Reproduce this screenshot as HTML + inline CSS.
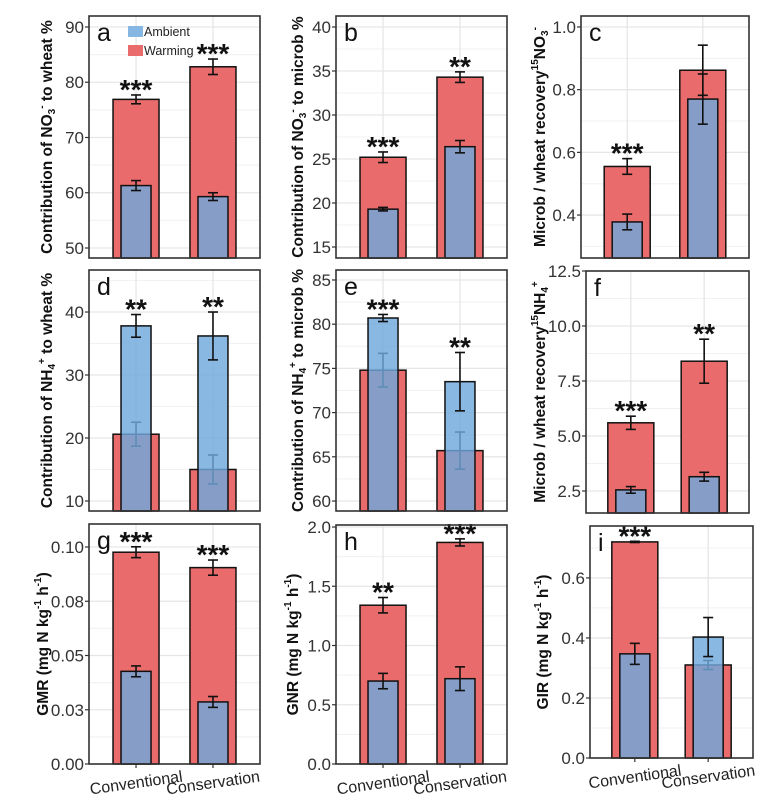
<!DOCTYPE html>
<html><head><meta charset="utf-8"><style>
html,body{margin:0;padding:0;background:#fff;}
svg{display:block;font-family:"Liberation Sans",sans-serif;}
</style></head><body>
<svg id="chart" width="776" height="806" viewBox="0 0 776 806" xmlns="http://www.w3.org/2000/svg"></svg>
<script>
// ---- data ----
const categories = ["Conventional","Conservation"];
const aWarm=[76.9,82.8], aWarmErr=[0.8,1.4], aAmb=[61.3,59.3], aAmbErr=[0.9,0.7], aStars=["***","***"];
const bWarm=[25.2,34.3], bWarmErr=[0.6,0.6], bAmb=[19.3,26.4], bAmbErr=[0.2,0.7], bStars=["***","**"];
const cWarm=[0.555,0.862], cWarmErr=[0.025,0.08], cAmb=[0.378,0.77], cAmbErr=[0.025,0.08], cStars=["***",""];
const dWarm=[20.6,15.0], dWarmErr=[1.9,2.3], dAmb=[37.8,36.2], dAmbErr=[1.8,3.8], dStars=["**","**"];
const eWarm=[74.8,65.7], eWarmErr=[1.9,2.1], eAmb=[80.7,73.5], eAmbErr=[0.4,3.3], eStars=["***","**"];
const fWarm=[5.6,8.4], fWarmErr=[0.3,1.0], fAmb=[2.55,3.15], fAmbErr=[0.15,0.2], fStars=["***","**"];
const gWarm=[0.0976,0.0905], gWarmErr=[0.0025,0.0035], gAmb=[0.0427,0.0286], gAmbErr=[0.0025,0.0025], gStars=["***","***"];
const hWarm=[1.34,1.87], hWarmErr=[0.065,0.03], hAmb=[0.70,0.72], hAmbErr=[0.065,0.1], hStars=["**","***"];
const iWarm=[0.72,0.31], iWarmErr=[0.002,0.015], iAmb=[0.347,0.403], iAmbErr=[0.035,0.065], iStars=["***",""];
const aTicks=[50,60,70,80,90], aTickLabels=["50","60","70","80","90"];
const bTicks=[15,20,25,30,35,40], bTickLabels=["15","20","25","30","35","40"];
const cTicks=[0.4,0.6,0.8,1.0], cTickLabels=["0.4","0.6","0.8","1.0"];
const dTicks=[10,20,30,40], dTickLabels=["10","20","30","40"];
const eTicks=[60,65,70,75,80,85], eTickLabels=["60","65","70","75","80","85"];
const fTicks=[2.5,5,7.5,10,12.5], fTickLabels=["2.5","5.0","7.5","10.0","12.5"];
const gTicks=[0,0.025,0.05,0.075,0.1], gTickLabels=["0.00","0.03","0.05","0.08","0.10"];
const hTicks=[0,0.5,1,1.5,2], hTickLabels=["0.0","0.5","1.0","1.5","2.0"];
const iTicks=[0,0.2,0.4,0.6], iTickLabels=["0.0","0.2","0.4","0.6"];

const NS="http://www.w3.org/2000/svg";
const svg=document.getElementById('chart');
function mk(tag,attrs,parent){const e=document.createElementNS(NS,tag);for(const k in attrs)e.setAttribute(k,attrs[k]);(parent||svg).appendChild(e);return e;}

const panels=[
 {id:'a',box:[89,260,16,258],dom:[48.19,91.99],warm:aWarm,we:aWarmErr,amb:aAmb,ae:aAmbErr,stars:aStars,ticks:aTicks,tl:aTickLabels,tx:48,title:['Contribution of NO',['3','sub'],['-','sup'],' to wheat %']},
 {id:'b',box:[336,507,16,258],dom:[13.75,41.25],warm:bWarm,we:bWarmErr,amb:bAmb,ae:bAmbErr,stars:bStars,ticks:bTicks,tl:bTickLabels,tx:299,title:['Contribution of NO',['3','sub'],['-','sup'],' to microb %']},
 {id:'c',box:[581,749,16,258],dom:[0.263,1.035],warm:cWarm,we:cWarmErr,amb:cAmb,ae:cAmbErr,stars:cStars,ticks:cTicks,tl:cTickLabels,tx:541,title:['Microb / wheat recovery',['15','sup'],'NO',['3','sub'],['-','sup']]},
 {id:'d',box:[89,260,270,511],dom:[8.41,46.67],warm:dWarm,we:dWarmErr,amb:dAmb,ae:dAmbErr,stars:dStars,ticks:dTicks,tl:dTickLabels,tx:48,title:['Contribution of NH',['4','sub'],['+','sup'],' to wheat %']},
 {id:'e',box:[336,507,270,511],dom:[58.87,86.13],warm:eWarm,we:eWarmErr,amb:eAmb,ae:eAmbErr,stars:eStars,ticks:eTicks,tl:eTickLabels,tx:299,title:['Contribution of NH',['4','sub'],['+','sup'],' to microb %']},
 {id:'f',box:[586,749,271,513],dom:[1.5,12.5],warm:fWarm,we:fWarmErr,amb:fAmb,ae:fAmbErr,stars:fStars,ticks:fTicks,tl:fTickLabels,tx:541,title:['Microb / wheat recovery',['15','sup'],'NH',['4','sub'],['+','sup']]},
 {id:'g',box:[89,260,524,764],dom:[0,0.1106],warm:gWarm,we:gWarmErr,amb:gAmb,ae:gAmbErr,stars:gStars,ticks:gTicks,tl:gTickLabels,tx:44,title:['GMR (mg N kg',['-1','sup'],' h',['-1','sup'],')'],xlab:true},
 {id:'h',box:[336,507,525,764],dom:[0,2.017],warm:hWarm,we:hWarmErr,amb:hAmb,ae:hAmbErr,stars:hStars,ticks:hTicks,tl:hTickLabels,tx:294,title:['GNR (mg N kg',['-1','sup'],' h',['-1','sup'],')'],xlab:true},
 {id:'i',box:[590,753,526,758],dom:[0,0.773],warm:iWarm,we:iWarmErr,amb:iAmb,ae:iAmbErr,stars:iStars,ticks:iTicks,tl:iTickLabels,tx:544,title:['GIR (mg N kg',['-1','sup'],' h',['-1','sup'],')'],xlab:true}
];

panels.forEach(p=>{
 const [L,R,T,B]=p.box;
 const g=mk('g',{});
 
 
 const y=v=>B-(v-p.dom[0])/(p.dom[1]-p.dom[0])*(B-T);
 const x=i=>L+(R-L)*(0.275+0.45*i);
 for(let k=0;k<p.ticks.length;k++){
   const t=p.ticks[k];
   const step=p.ticks.length>1?(p.ticks[1]-p.ticks[0]):1;
   [t-step/2,t+step/2].forEach(m=>{if(m>p.dom[0]&&m<p.dom[1])mk('line',{x1:L,x2:R,y1:y(m),y2:y(m),stroke:'#f2f2f2','stroke-width':1},g);});
 }
 p.ticks.forEach(t=>mk('line',{x1:L,x2:R,y1:y(t),y2:y(t),stroke:'#e6e6e6','stroke-width':1.3},g));
 categories.forEach((c,i)=>mk('line',{x1:x(i),x2:x(i),y1:T,y2:B,stroke:'#e6e6e6','stroke-width':1.3},g));
 const eb=(cx,v,e,col,w)=>{
   const gg=mk('g',{stroke:col,'stroke-width':1.6},g);
   mk('line',{x1:cx,x2:cx,y1:y(v+e),y2:y(v-e)},gg);
   mk('line',{x1:cx-w,x2:cx+w,y1:y(v+e),y2:y(v+e)},gg);
   mk('line',{x1:cx-w,x2:cx+w,y1:y(v-e),y2:y(v-e)},gg);
 };
 categories.forEach((c,i)=>{
   const cx=x(i);
   const rb=mk('rect',{x:cx-23,y:y(p.warm[i]),width:46,height:B-y(p.warm[i]),fill:'#ea6b6b',stroke:'#111','stroke-width':1.5},g);
   
   
   eb(cx,p.warm[i],p.we[i],'#111',5);
   const ab=mk('rect',{x:cx-15,y:y(p.amb[i]),width:30,height:B-y(p.amb[i]),fill:'rgba(111,168,220,0.82)',stroke:'#111','stroke-width':1.5},g);
   
   
   eb(cx,p.amb[i],p.ae[i],'#111',5);
   if(p.stars[i]){
     const top=Math.max(p.warm[i]+p.we[i],p.amb[i]+p.ae[i]);
     const s=mk('text',{x:cx,y:y(top)+4,'text-anchor':'middle','font-size':28,'font-weight':'bold',fill:'#111'},g);
     s.textContent=p.stars[i];
     
     
   }
 });
 p.ticks.forEach((t,k)=>{
   mk('line',{x1:L-4,x2:L,y1:y(t),y2:y(t),stroke:'#333','stroke-width':1.2},g);
   const tl=mk('text',{x:L-5,y:y(t)+6,'text-anchor':'end','font-size':17,fill:'#333'},g);
   tl.textContent=p.tl[k];
   
   
 });
 mk('rect',{x:L,y:T,width:R-L,height:B-T,fill:'none',stroke:'#333','stroke-width':1.6},g);
 const lt=mk('text',{x:L+8,y:T+25,'font-size':25,fill:'#111'},g);
 lt.textContent=p.id;
 
 
 const cy=(T+B)/2;
 const ti=mk('text',{x:p.tx,y:cy,'text-anchor':'middle','font-size':15.5,'font-weight':'bold',fill:'#111',transform:`rotate(-90 ${p.tx} ${cy})`,'dominant-baseline':'middle'},g);
 
 
 p.title.forEach(part=>{
   const sp=mk('tspan',{},ti);
   if(typeof part==='string'){sp.textContent=part;}
   else{sp.textContent=part[0];sp.setAttribute('font-size',10);sp.setAttribute('baseline-shift',part[1]==='sup'?'6':'-4');}
 });
 if(p.xlab){
   categories.forEach((c,i)=>{
     mk('line',{x1:x(i),x2:x(i),y1:B,y2:B+4,stroke:'#333','stroke-width':1.2},g);
     const xl=mk('text',{x:x(i),y:B+24,'text-anchor':'middle','font-size':16,fill:'#222',transform:`rotate(-8 ${x(i)} ${B+18})`},g);
     xl.textContent=c;
     
     
   });
 }
});
const lg=mk('g',{});


mk('rect',{x:128,y:26,width:15,height:11,fill:'#86b6e2'},lg);
mk('rect',{x:128,y:45,width:15,height:11,fill:'#ea6b6b'},lg);
const l1=mk('text',{x:144,y:36,'font-size':12.5,fill:'#222'},lg);l1.textContent='Ambient';


const l2=mk('text',{x:144,y:55,'font-size':12.5,fill:'#222'},lg);l2.textContent='Warming';


</script>
</body></html>
